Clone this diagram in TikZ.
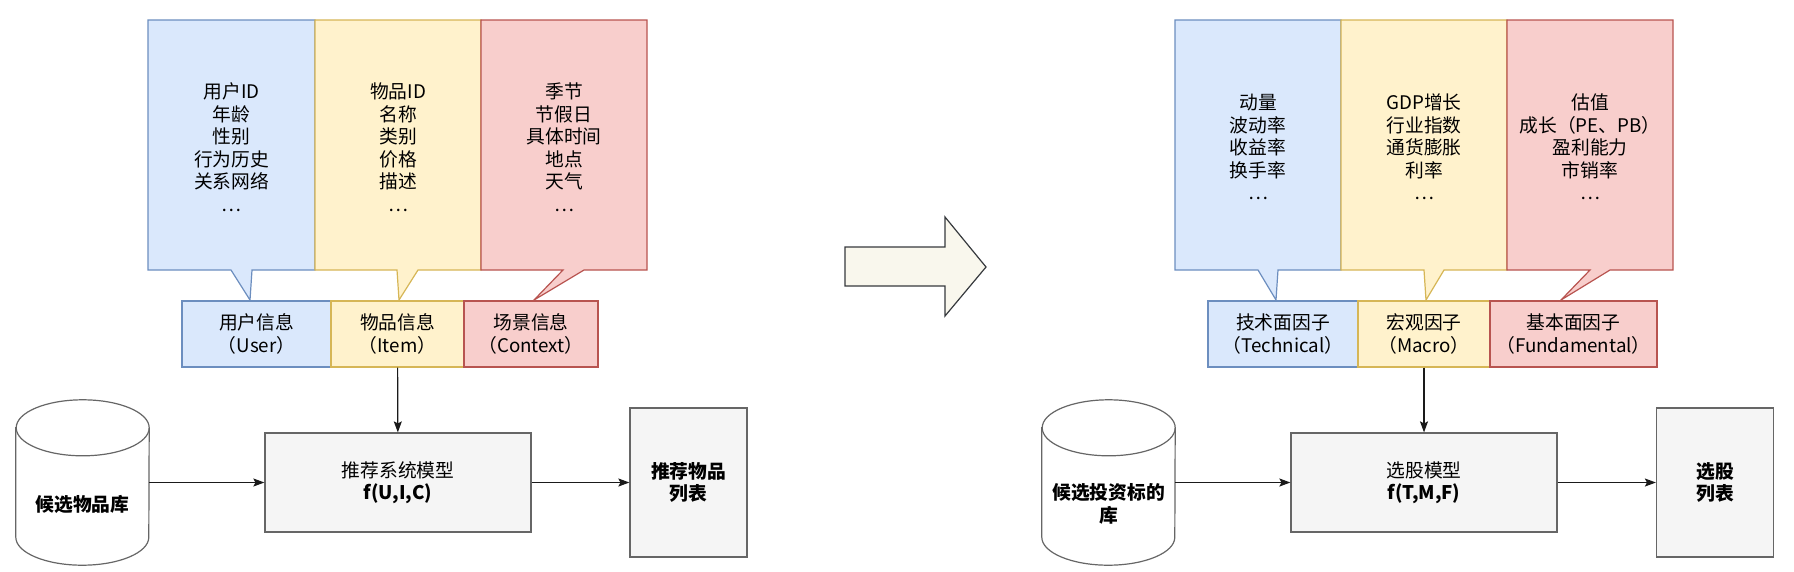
\documentclass[tikz,border=0pt]{standalone}
\usepackage{fontspec}
\setmainfont{Noto Sans CJK SC}
\usetikzlibrary{arrows.meta}
\definecolor{userfill}{HTML}{DAE8FC}
\definecolor{userline}{HTML}{6C8EBF}
\definecolor{itemfill}{HTML}{FFF2CC}
\definecolor{itemline}{HTML}{D6B656}
\definecolor{ctxfill}{HTML}{F8CECC}
\definecolor{ctxline}{HTML}{B85450}
\definecolor{boxfill}{HTML}{F5F5F5}
\definecolor{boxline}{HTML}{666666}
\definecolor{bigfill}{HTML}{F9F7ED}
\definecolor{bigline}{HTML}{36393D}
\definecolor{flowline}{HTML}{1A1A1A}
\tikzset{
  every node/.style={font=\fontsize{18.75}{22.5}\selectfont, align=center, text=black},
  bubble/.style={line width=1.2pt, line join=miter},
  tag/.style={draw, line width=1.2pt, minimum height=66pt, inner sep=0pt},
  box/.style={draw=boxline, fill=boxfill, line width=1.2pt, inner sep=0pt},
  db/.style={draw=boxline, fill=white, line width=1.2pt},
  flow/.style={-{Stealth[length=11pt,width=8pt,inset=2pt]}, line width=1.2pt, draw=flowline},
}
\begin{document}
\begin{tikzpicture}[x=1pt,y=-1pt]
  \useasboundingbox (0,0) rectangle (1794,571);

  % left: recommendation
  \draw[bubble, fill=userfill, draw=userline] (148,20) -- (315,20) -- (315,270) -- (252,270) -- (250,300) -- (231,270) -- (148,270) -- cycle;
  \draw[bubble, fill=itemfill, draw=itemline] (315,20) -- (481,20) -- (481,270) -- (418,270) -- (399,300) -- (397,270) -- (315,270) -- cycle;
  \draw[bubble, fill=ctxfill, draw=ctxline] (481,20) -- (647,20) -- (647,270) -- (584,270) -- (534,300) -- (563,270) -- (481,270) -- cycle;
  \node (userText) at (231.5,147) {用户ID\\年龄\\性别\\行为历史\\关系网络\\\ldots};
  \node (itemText) at (398,147) {物品ID\\名称\\类别\\价格\\描述\\\ldots};
  \node (ctxText) at (564,147) {季节\\节假日\\具体时间\\地点\\天气\\\ldots};

  \node[tag, fill=userfill, draw=userline, minimum width=149pt] (user) at (256.5,334) {用户信息\\（User）};
  \node[tag, fill=itemfill, draw=itemline, minimum width=133pt] (item) at (397.5,334) {物品信息\\（Item）};
  \node[tag, fill=ctxfill, draw=ctxline, minimum width=134pt] (ctx) at (531,334) {场景信息\\（Context）};

  \node[minimum width=133pt, minimum height=165pt, inner sep=0pt] (pool) at (82.5,482.5) {};
  \draw[db] ([yshift=-28pt]pool.north west) -- ([yshift=28pt]pool.south west)
    arc[start angle=180, end angle=360, x radius=66.5pt, y radius=28pt]
    -- ([yshift=-28pt]pool.north east)
    arc[start angle=0, end angle=180, x radius=66.5pt, y radius=28pt] -- cycle;
  \draw[db, fill=none] ([yshift=-28pt]pool.north east) arc[start angle=0, end angle=-180, x radius=66.5pt, y radius=28pt];
  \node[font=\fontsize{18.75}{22.5}\selectfont\bfseries] (poolText) at (82.5,504) {候选物品库};

  \node[box, minimum width=266pt, minimum height=99pt] (model) at (398,482.5) {推荐系统模型\\\textbf{f(U,I,C)}};
  \node[box, minimum width=117pt, minimum height=149pt, font=\fontsize{18.75}{22.5}\selectfont\bfseries] (list) at (688.5,482.5) {推荐物品\\列表};

  \draw[flow] (item) -- (model);
  \draw[flow] (pool) -- (model);
  \draw[flow] (model) -- (list);

  % big arrow
  \draw[fill=bigfill, draw=bigline, line width=1.2pt] (845,247) -- (945,247) -- (945,217) -- (986,267) -- (945,316) -- (945,286) -- (845,286) -- cycle;

  % right: stock selection
  \draw[bubble, fill=userfill, draw=userline] (1175,20) -- (1341,20) -- (1341,270) -- (1278,270) -- (1276,300) -- (1258,270) -- (1175,270) -- cycle;
  \draw[bubble, fill=itemfill, draw=itemline] (1341,20) -- (1507,20) -- (1507,270) -- (1444,270) -- (1426,300) -- (1424,270) -- (1341,270) -- cycle;
  \draw[bubble, fill=ctxfill, draw=ctxline] (1507,20) -- (1673,20) -- (1673,270) -- (1610,270) -- (1561,300) -- (1590,270) -- (1507,270) -- cycle;
  \node (techText) at (1258,147) {动量\\波动率\\收益率\\换手率\\\ldots};
  \node (macroText) at (1424,147) {GDP增长\\行业指数\\通货膨胀\\利率\\\ldots};
  \node (fundText) at (1590,147) {估值\\成长（PE、PB）\\盈利能力\\市销率\\\ldots};

  \node[tag, fill=userfill, draw=userline, minimum width=150pt] (tech) at (1283,334) {技术面因子\\（Technical）};
  \node[tag, fill=itemfill, draw=itemline, minimum width=132pt] (macro) at (1424,334) {宏观因子\\（Macro）};
  \node[tag, fill=ctxfill, draw=ctxline, minimum width=167pt] (fund) at (1573.5,334) {基本面因子\\（Fundamental）};

  \node[minimum width=133pt, minimum height=165pt, inner sep=0pt] (stocks) at (1108.5,482.5) {};
  \draw[db] ([yshift=-28pt]stocks.north west) -- ([yshift=28pt]stocks.south west)
    arc[start angle=180, end angle=360, x radius=66.5pt, y radius=28pt]
    -- ([yshift=-28pt]stocks.north east)
    arc[start angle=0, end angle=180, x radius=66.5pt, y radius=28pt] -- cycle;
  \draw[db, fill=none] ([yshift=-28pt]stocks.north east) arc[start angle=0, end angle=-180, x radius=66.5pt, y radius=28pt];
  \node[font=\fontsize{18.75}{22.5}\selectfont\bfseries] (stocksText) at (1108.5,504) {候选投资标的\\库};

  \node[box, minimum width=266pt, minimum height=99pt] (picker) at (1424,482.5) {选股模型\\\textbf{f(T,M,F)}};
  \node[box, minimum width=117pt, minimum height=149pt, font=\fontsize{18.75}{22.5}\selectfont\bfseries] (picks) at (1715,482.5) {选股\\列表};

  \draw[flow] (macro) -- (picker);
  \draw[flow] (stocks) -- (picker);
  \draw[flow] (picker) -- (picks);
\end{tikzpicture}
\end{document}
